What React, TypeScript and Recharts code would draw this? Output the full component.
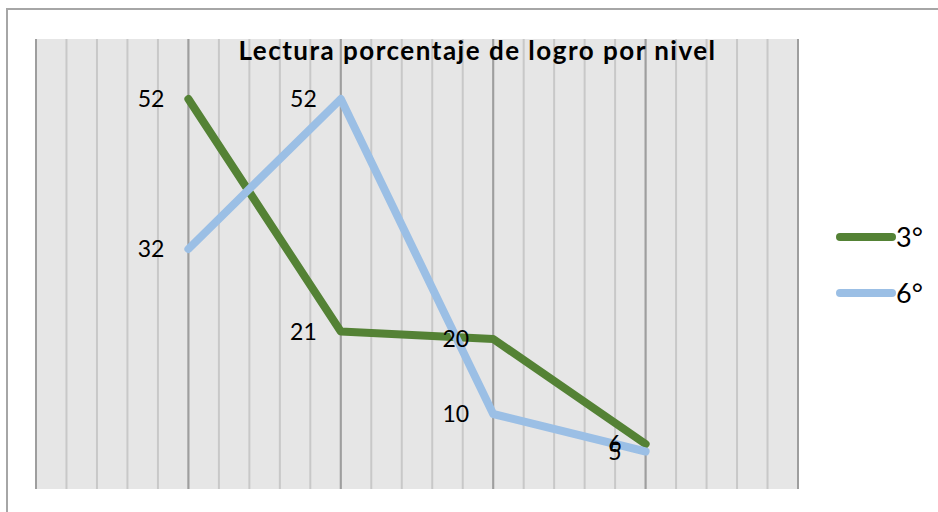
import React from "react";
import { LineChart, Line, XAxis, YAxis, CartesianGrid, LabelList } from "recharts";

// posiciones en el eje (la hoja tiene 25 divisiones, los puntos caen cada 5)
const positions = [5, 10, 15, 20];
const tercero = [52, 21, 20, 6];
const sexto = [32, 52, 10, 5];
const minorTicks = Array.from({ length: 26 }, (_, i) => i);
const majorTicks = [0, 5, 10, 15, 20, 25];

const data = positions.map((x, i) => ({ x, t3: tercero[i], t6: sexto[i] }));

const GREEN = "#548235";
const BLUE = "#9BBFE5";
const FONT = "Lato, 'Open Sans', sans-serif";

const series = [
  { key: "t3", name: "3°", color: GREEN },
  { key: "t6", name: "6°", color: BLUE },
];

const App = () => {
  return (
    <div style={{ position: "absolute", left: 0, top: 0, width: 938, height: 512, background: "#fff", overflow: "hidden" }}>
      <div
        style={{
          position: "absolute",
          left: 6,
          top: 8,
          width: 940,
          height: 510,
          borderTop: "2px solid #a6a6a6",
          borderLeft: "2px solid #a6a6a6",
        }}
      />
      <LineChart width={938} height={512} data={data} margin={{ top: 39, right: 140, left: 36, bottom: 23 }}>
        <XAxis xAxisId="minor" dataKey="x" type="number" domain={[0, 25]} ticks={minorTicks} hide />
        <XAxis xAxisId="major" dataKey="x" type="number" domain={[0, 25]} ticks={majorTicks} hide />
        <YAxis domain={[0, 60]} hide />
        <CartesianGrid xAxisId="minor" horizontal={false} stroke="#c8c8c8" strokeWidth={2} fill="#e6e6e6" />
        <CartesianGrid xAxisId="major" horizontal={false} stroke="#9e9e9e" strokeWidth={2} />
        {series.map((s) => (
          <Line
            key={s.key}
            xAxisId="major"
            dataKey={s.key}
            name={s.name}
            stroke={s.color}
            strokeWidth={8}
            strokeLinecap="round"
            strokeLinejoin="round"
            dot={false}
            isAnimationActive={false}
          >
            <LabelList dataKey={s.key} position="left" offset={24} fill="#000" fontSize={23} fontFamily={FONT} />
          </Line>
        ))}
      </LineChart>
      <div style={{ position: "absolute", left: 836, top: 209, fontFamily: FONT }}>
        {series.map((s) => (
          <div key={s.key} style={{ display: "flex", alignItems: "center", height: 56 }}>
            <div style={{ width: 60, height: 8, borderRadius: 4, background: s.color }} />
            <span style={{ fontSize: 27, color: "#000", lineHeight: "28px" }}>{s.name}</span>
          </div>
        ))}
      </div>
      <div
        style={{
          position: "absolute",
          left: 0,
          width: 955,
          top: 34,
          textAlign: "center",
          fontFamily: FONT,
          fontWeight: 700,
          fontSize: 26,
          letterSpacing: 1.5,
          color: "#000",
        }}
      >
        Lectura porcentaje de logro por nivel
      </div>
    </div>
  );
};

export default App;
